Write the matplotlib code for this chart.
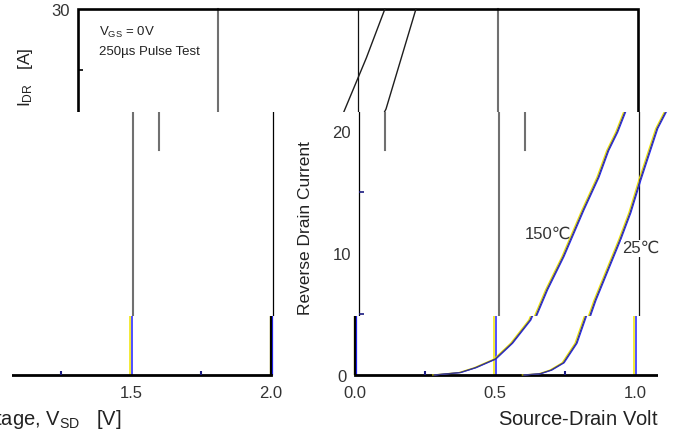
import matplotlib.pyplot as plt
from matplotlib.transforms import offset_copy

# Reverse drain current vs source-drain voltage, VGS = 0 V
v_150 = [0.28, 0.375, 0.43, 0.50, 0.56, 0.625, 0.671, 0.729, 0.80, 0.854, 0.889, 0.921, 0.95, 1.03, 1.096]
i_150 = [0.0, 0.2, 0.6, 1.3, 2.6, 4.5, 7.0, 9.7, 13.5, 16.2, 18.4, 19.9, 21.6, 26.0, 30.0]
v_25 = [0.60, 0.66, 0.70, 0.744, 0.79, 0.843, 0.932, 0.968, 1.004, 1.064, 1.10, 1.207]
i_25 = [0.0, 0.1, 0.4, 1.0, 2.6, 6.1, 11.1, 13.3, 16.0, 20.2, 21.8, 30.0]

x_ticks = [0.0, 0.5, 1.0, 1.5, 2.0]
x_ticklabels = ['0.0', '0.5', '1.0', '1.5', '2.0']
y_ticks = [0, 10, 20, 30]
y_ticklabels = ['0', '10', '20', '30']
x_minor = [0.25, 0.75, 1.25, 1.75]
y_minor = [5, 15, 25]
grid_v = [0.5, 1.0, 1.5]
ghost_v = [0.0, 0.5, 1.5]

W, H = 675, 440
PX_V = 280.0   # pixels per volt
PX_A = 12.2    # pixels per ampere
Y0 = 375       # pixel row of 0 A

plt.rcParams['font.family'] = ['Liberation Sans', 'DejaVu Sans', 'Noto Sans CJK JP']
plt.rcParams['mathtext.default'] = 'regular'

fig = plt.figure(figsize=(W / 100, H / 100), dpi=100)
fig.patch.set_facecolor('white')


def pv(dx):
    return dx / PX_V


def pa(dy):
    return dy / PX_A


def fringe(ax, x, y, lw_main, main='black', lw_edge=0.9):
    # line with the yellow/blue colour fringe of the scanned print
    left = offset_copy(ax.transData, fig=fig, x=-1.3, y=0, units='dots')
    right = offset_copy(ax.transData, fig=fig, x=0.9, y=0, units='dots')
    ax.plot(x, y, color='#f0e400', lw=lw_edge, transform=left, solid_capstyle='butt')
    ax.plot(x, y, color='#2020ff', lw=lw_edge, transform=right, solid_capstyle='butt')
    if main is not None:
        ax.plot(x, y, color=main, lw=lw_main, solid_capstyle='butt')


def draw_chart(ax, band):
    txt = dict(color='#333333', clip_on=True)

    # vertical grid
    for v in grid_v:
        if band == 'C':
            fringe(ax, [v, v], [0, 30], 0.0, main=None, lw_edge=1.1)
        elif v == 1.0:
            ax.plot([v, v], [0, 30], color='#111111', lw=0.9)
        else:
            ax.plot([v, v], [0, 30], color='#707070', lw=1.5)
    if band == 'B':
        for v in ghost_v:
            ax.plot([v + pv(26)] * 2, [pa(Y0 - 150), pa(Y0 - 112)], color='#707070', lw=1.5)

    # frame
    fv = [0, 2, 2, 0, 0]
    fi = [0, 0, 30, 30, 0]
    if band == 'A':
        ax.plot(fv, fi, color='black', lw=1.9, solid_joinstyle='miter')
    elif band == 'B':
        ax.plot(fv, fi, color='black', lw=0.9)
    else:
        fringe(ax, [0, 0], [0, 30], 1.6)
        fringe(ax, [2, 2], [0, 30], 1.6)
        ax.plot([0, 2], [0, 0], color='black', lw=2.0)

    # minor ticks
    tick_c = 'black' if band == 'A' else '#1a1a80'
    ax.hlines(y_minor, 0, pv(5), colors=tick_c, lw=1.2)
    ax.vlines(x_minor, 0, pa(4), colors=tick_c, lw=1.5)

    # curves
    if band == 'A':
        ax.plot(v_150, i_150, color='#1e1e1e', lw=1.0)
        ax.plot(v_25, i_25, color='#1e1e1e', lw=1.0)
    else:
        fringe(ax, v_150, i_150, 0.9, main='#3a3a7c', lw_edge=0.8)
        fringe(ax, v_25, i_25, 0.9, main='#3a3a7c', lw_edge=0.8)

    # tick labels
    for v, s in zip(x_ticks, x_ticklabels):
        ax.text(v, -pa(23), s, ha='center', va='baseline', fontsize=12, **txt)
    for y, s in zip(y_ticks, y_ticklabels):
        ax.text(-pv(8), y - pa(6.5), s, ha='right', va='baseline', fontsize=12, **txt)

    # axis labels
    ax.text(1.0 + pv(2.8), -pa(50), r'Source-Drain Voltage, V$_{SD}$   [V]', ha='center',
            va='baseline', fontsize=14.5, color='#222222', clip_on=True)
    ax.text(-pv(53), pa(Y0 - 315), 'Reverse Drain Current', rotation=90,
            ha='center', va='bottom', fontsize=12.5, color='#222222', clip_on=True)
    ax.text(-pv(53), pa(Y0 - 107), r'I$_{DR}$   [A]', rotation=90,
            ha='center', va='bottom', fontsize=12.5, color='#222222', clip_on=True)

    # annotations
    ax.text(pv(21), pa(Y0 - 36), r'V$_{GS}$ = 0V', fontsize=9.5, color='#222222', clip_on=True)
    ax.text(pv(21), pa(Y0 - 55), '250µs Pulse Test', fontsize=9.5, color='#222222', clip_on=True)
    ax.text(0.593, 11.2, '150℃', fontsize=12, color='#333333', clip_on=True)
    ax.text(0.939, 10.0, '25℃', fontsize=12, color='#333333', clip_on=True,
            bbox=dict(facecolor='white', edgecolor='none', pad=0.5))


# horizontal strips of the chart, each shown with its own offset
tiles = [
    # left, right, top, bottom, x of 0 V, band
    (0, 675, 0, 112, 78, 'A'),
    (100, 287, 112, 316, -287, 'B'),
    (287, 675, 112, 316, 359, 'B'),
    (12, 287, 316, 405, -289, 'C'),
    (0, 287, 405, 440, -301, 'C'),
    (287, 658, 316, 440, 355, 'C'),
]

axes = []
for left, right, top, bottom, x0, band in tiles:
    ax = fig.add_axes([left / W, 1 - bottom / H, (right - left) / W, (bottom - top) / H])
    ax.set_xlim((left - x0) / PX_V, (right - x0) / PX_V)
    ax.set_ylim((Y0 - bottom) / PX_A, (Y0 - top) / PX_A)
    ax.axis('off')
    draw_chart(ax, band)
    axes.append(ax)

# drop texts that fall completely outside their strip
fig.canvas.draw()
renderer = fig.canvas.get_renderer()
for ax in axes:
    for t in list(ax.texts):
        if not t.get_window_extent(renderer).overlaps(ax.bbox):
            t.remove()

fig.savefig('out.png', dpi=100, facecolor='white')
